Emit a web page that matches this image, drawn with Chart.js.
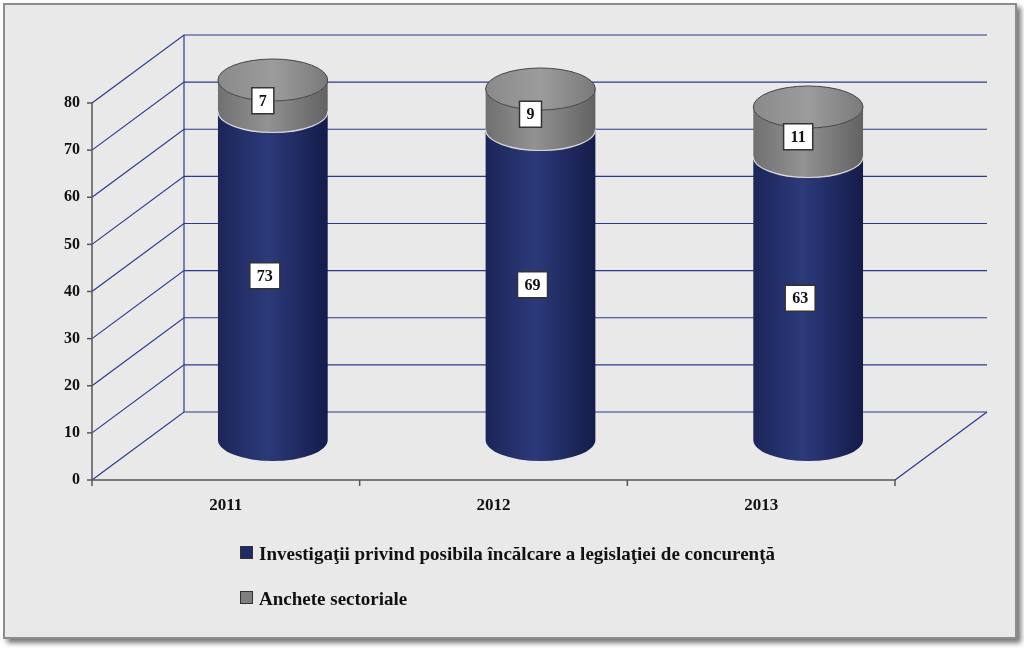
<!DOCTYPE html>
<html><head><meta charset="utf-8">
<script src="https://cdn.jsdelivr.net/npm/chart.js@4"></script>
<style>
html,body{margin:0;padding:0;background:#fff;}
#wrap{position:relative;width:1024px;height:648px;}
#frame{position:absolute;left:3px;top:3px;width:1010px;height:632px;background:#e9e9e9;border:2px solid #8c8c8c;box-shadow:4px 4px 5px #777;}
canvas{position:absolute;left:0;top:0;}
.leg{position:absolute;left:240px;font:bold 19px "Liberation Serif","DejaVu Serif",serif;color:#111;}
.leg span{display:inline-block;width:11px;height:11px;margin-right:6px;border:1px solid #333;vertical-align:1px;}
</style></head><body>
<div id="wrap"><div id="frame"></div><canvas id="c" width="1024" height="648"></canvas>
<div class="leg" style="top:543px"><span style="background:#1f2a66"></span>Investigaţii privind posibila încălcare a legislaţiei de concurenţă</div>
<div class="leg" style="top:588px"><span style="background:#7f7f7f"></span>Anchete sectoriale</div>
</div>
<script>
const categories=['2011','2012','2013'];
const investigatii=[73,69,63];
const anchete=[7,9,11];
const yTicks=[0,10,20,30,40,50,60,70,80];
const DX=92,DY=-68,CX=47,RY=21;
const F='bold 16px "Liberation Serif","DejaVu Serif",serif';
const plug={id:'cyl',
beforeDatasetsDraw(ch){
 const c=ch.ctx,ys=ch.scales.y,a=ch.chartArea;
 c.save();c.strokeStyle='#2b3a8a';c.lineWidth=1.2;
 yTicks.forEach(v=>{const y=ys.getPixelForValue(v);
  c.beginPath();c.moveTo(a.left,y);c.lineTo(a.left+DX,y+DY);c.lineTo(a.right+DX,y+DY);c.stroke();});
 c.beginPath();c.moveTo(a.left+DX,ys.getPixelForValue(80)+DY);c.lineTo(a.left+DX,a.bottom+DY);c.stroke();
 c.beginPath();c.moveTo(a.right,a.bottom);c.lineTo(a.right+DX,a.bottom+DY);c.stroke();
 c.strokeStyle='#555';c.lineWidth=1.5;
 c.beginPath();c.moveTo(a.left,ys.getPixelForValue(80));c.lineTo(a.left,a.bottom);c.lineTo(a.right,a.bottom);c.stroke();
 const w=(a.right-a.left)/categories.length;
 for(let i=0;i<=categories.length;i++){const x=a.left+i*w;c.beginPath();c.moveTo(x,a.bottom);c.lineTo(x,a.bottom+6);c.stroke();}
 yTicks.forEach(v=>{const y=ys.getPixelForValue(v);c.beginPath();c.moveTo(a.left-5,y);c.lineTo(a.left,y);c.stroke();});
 c.fillStyle='#111';c.font=F;c.textAlign='right';c.textBaseline='middle';
 yTicks.forEach(v=>c.fillText(String(v),a.left-12,ys.getPixelForValue(v)));
 c.textAlign='center';c.textBaseline='top';c.font='bold 17px "Liberation Serif","DejaVu Serif",serif';
 ch.getDatasetMeta(0).data.forEach((b,i)=>c.fillText(categories[i],b.x,a.bottom+17));
 c.restore();
},
afterDatasetsDraw(ch){
 const c=ch.ctx,a=ch.chartArea;const m0=ch.getDatasetMeta(0).data,m1=ch.getDatasetMeta(1).data;
 const T=y=>440-(a.bottom-y)*360/(a.bottom-a.top);
 function grad(x,rx,cols){const g=c.createLinearGradient(x-rx,0,x+rx,0);g.addColorStop(0,cols[0]);g.addColorStop(0.45,cols[1]);g.addColorStop(1,cols[2]);return g;}
 const navy=['#1b2558','#2c3a7a','#151c4a'],grey=['#707070','#929292','#626262'];
 function body(x,rx,top,bot,cols){c.fillStyle=grad(x,rx,cols);c.beginPath();c.moveTo(x-rx,top);c.lineTo(x-rx,bot);c.ellipse(x,bot,rx,RY,0,Math.PI,0,true);c.lineTo(x+rx,top);c.ellipse(x,top,rx,RY,0,0,Math.PI,false);c.closePath();c.fill();}
 function label(t,x,y){c.font=F;const tw=c.measureText(t).width+14;c.fillStyle='#fff';c.strokeStyle='#333';c.lineWidth=1.5;c.fillRect(x-tw/2,y-13,tw,26);c.strokeRect(x-tw/2,y-13,tw,26);c.fillStyle='#111';c.textAlign='center';c.textBaseline='middle';c.fillText(t,x,y+1);}
 c.save();
 m0.forEach((b,i)=>{const x=b.x+CX,rx=b.width/2,t0=T(b.y),b0=T(b.base),t1=T(m1[i].y);
  body(x,rx,t0,b0,navy);
  body(x,rx,t1,t0,grey);
  c.strokeStyle='#d8d8d8';c.lineWidth=1.2;c.beginPath();c.ellipse(x,t0,rx,RY,0,0,Math.PI,false);c.stroke();
  const g=c.createLinearGradient(x-rx,0,x+rx,0);g.addColorStop(0,'#8a8a8a');g.addColorStop(0.5,'#9c9c9c');g.addColorStop(1,'#7a7a7a');
  c.fillStyle=g;c.beginPath();c.ellipse(x,t1,rx,RY,0,0,Math.PI*2);c.fill();
  c.strokeStyle='#444';c.lineWidth=1;c.stroke();
  label(String(investigatii[i]),x-8,(t0+b0)/2);
  label(String(anchete[i]),x-10,(t1+t0)/2+5);
 });
 c.restore();
}};
new Chart(document.getElementById('c'),{type:'bar',
data:{labels:categories,datasets:[
 {label:'Investigaţii',data:investigatii,backgroundColor:'rgba(0,0,0,0)',barPercentage:0.41,categoryPercentage:1},
 {label:'Anchete',data:anchete,backgroundColor:'rgba(0,0,0,0)',barPercentage:0.41,categoryPercentage:1}]},
options:{responsive:false,animation:false,events:[],
 layout:{padding:{left:92,right:129,top:103,bottom:168}},
 plugins:{legend:{display:false},tooltip:{enabled:false}},
 scales:{x:{stacked:true,display:false},y:{stacked:true,display:false,min:0,max:80}}},
plugins:[plug]});
</script></body></html>
